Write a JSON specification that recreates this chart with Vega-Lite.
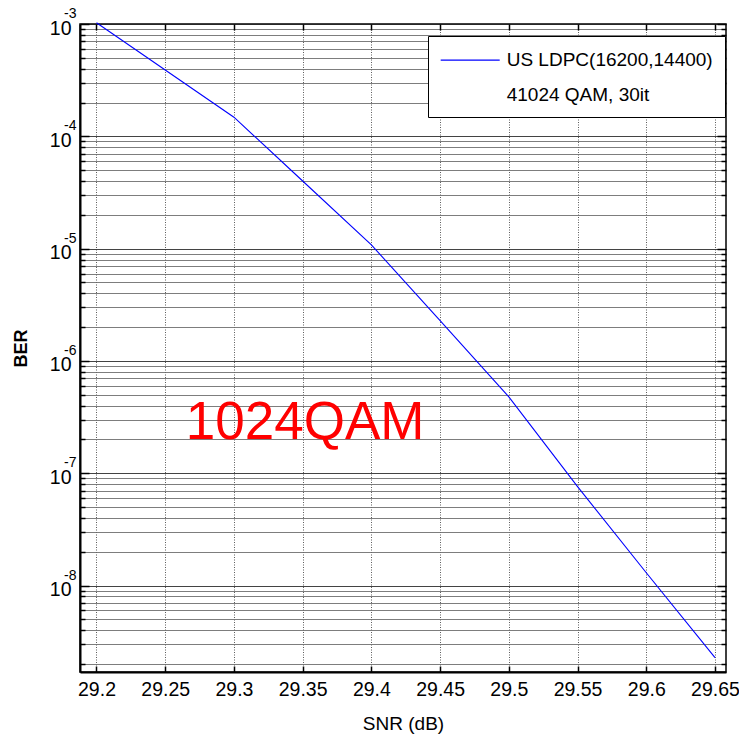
{
  "$schema": "https://vega.github.io/schema/vega-lite/v6.json",
  "width": 646,
  "height": 648,
  "autosize": "none",
  "padding": {"left": 80, "top": 24, "right": 13, "bottom": 66},
  "background": "white",
  "config": {
    "view": {"stroke": "black", "strokeWidth": 1.5},
    "font": "Liberation Sans"
  },
  "datasets": {
    "ber": [
      {"snr": 29.2, "ber": 1.027e-3, "series": "US LDPC(16200,14400)"},
      {"snr": 29.25, "ber": 3.9e-4, "series": "US LDPC(16200,14400)"},
      {"snr": 29.3, "ber": 1.48e-4, "series": "US LDPC(16200,14400)"},
      {"snr": 29.35, "ber": 4.0e-5, "series": "US LDPC(16200,14400)"},
      {"snr": 29.4, "ber": 1.08e-5, "series": "US LDPC(16200,14400)"},
      {"snr": 29.45, "ber": 2.28e-6, "series": "US LDPC(16200,14400)"},
      {"snr": 29.5, "ber": 4.78e-7, "series": "US LDPC(16200,14400)"},
      {"snr": 29.55, "ber": 7.6e-8, "series": "US LDPC(16200,14400)"},
      {"snr": 29.6, "ber": 1.3e-8, "series": "US LDPC(16200,14400)"},
      {"snr": 29.65, "ber": 2.28e-9, "series": "US LDPC(16200,14400)"}
    ],
    "exps": [
      {"v": 1e-3, "e": "-3"},
      {"v": 1e-4, "e": "-4"},
      {"v": 1e-5, "e": "-5"},
      {"v": 1e-6, "e": "-6"},
      {"v": 1e-7, "e": "-7"},
      {"v": 1e-8, "e": "-8"}
    ],
    "note": [
      {"x": 29.265, "y": 2e-7, "label": "1024QAM"}
    ]
  },
  "resolve": {"axis": {"x": "independent", "y": "independent"}},
  "layer": [
    {
      "data": {"name": "ber"},
      "mark": {"type": "line", "strokeWidth": 1.1, "clip": false},
      "encoding": {
        "x": {
          "field": "snr", "type": "quantitative",
          "scale": {"domain": [29.188, 29.658], "nice": false, "zero": false},
          "axis": {
            "orient": "bottom",
            "values": [29.2, 29.25, 29.3, 29.35, 29.4, 29.45, 29.5, 29.55, 29.6, 29.65],
            "format": ".2~f",
            "title": "SNR (dB)",
            "titleFont": "Liberation Sans",
            "titleFontSize": 19,
            "titleFontWeight": "normal",
            "titleColor": "black",
            "titlePadding": 16,
            "labelFont": "Liberation Sans",
            "labelFontSize": 19.5,
            "labelColor": "black",
            "labelPadding": 14,
            "labelFlush": false,
            "labelOverlap": false,
            "domainColor": "black",
            "domainWidth": 2,
            "ticks": true,
            "tickSize": -6,
            "tickColor": "black",
            "tickWidth": 1.5,
            "grid": true,
            "gridColor": "#333",
            "gridOpacity": 0.8,
            "gridDash": [1, 1.5],
            "gridWidth": 1
          }
        },
        "y": {
          "field": "ber", "type": "quantitative",
          "scale": {"type": "log", "domain": [1.7e-9, 1e-3], "nice": false},
          "axis": {
            "orient": "left",
            "values": [2e-9, 3e-9, 4e-9, 5e-9, 6e-9, 7e-9, 8e-9, 9e-9,
                       1e-8, 2e-8, 3e-8, 4e-8, 5e-8, 6e-8, 7e-8, 8e-8, 9e-8,
                       1e-7, 2e-7, 3e-7, 4e-7, 5e-7, 6e-7, 7e-7, 8e-7, 9e-7,
                       1e-6, 2e-6, 3e-6, 4e-6, 5e-6, 6e-6, 7e-6, 8e-6, 9e-6,
                       1e-5, 2e-5, 3e-5, 4e-5, 5e-5, 6e-5, 7e-5, 8e-5, 9e-5,
                       1e-4, 2e-4, 3e-4, 4e-4, 5e-4, 6e-4, 7e-4, 8e-4, 9e-4, 1e-3],
            "labelExpr": "abs(log(datum.value)/LN10 - round(log(datum.value)/LN10)) < 0.001 ? '10' : ''",
            "title": "BER",
            "titleFont": "Liberation Sans",
            "titleFontSize": 18,
            "titleFontWeight": "bold",
            "titleColor": "black",
            "titlePadding": 19,
            "labelFont": "Liberation Sans",
            "labelFontSize": 19.5,
            "labelColor": "black",
            "labelPadding": 18,
            "labelOffset": 4,
            "labelFlush": false,
            "labelOverlap": false,
            "domainColor": "black",
            "domainWidth": 2,
            "ticks": true,
            "tickSize": {"condition": {"test": "abs(log(datum.value)/LN10 - round(log(datum.value)/LN10)) < 0.001", "value": -9}, "value": -5},
            "tickColor": "black",
            "tickWidth": 1.5,
            "grid": true,
            "gridColor": {"condition": {"test": "abs(log(datum.value)/LN10 - round(log(datum.value)/LN10)) < 0.001", "value": "#222"}, "value": "#666"},
            "gridOpacity": 0.85,
            "gridWidth": 1
          }
        },
        "color": {
          "field": "series", "type": "nominal",
          "scale": {"domain": ["US LDPC(16200,14400)", "41024 QAM, 30it"], "range": ["#0000ff", "transparent"]},
          "legend": {
            "title": null,
            "orient": "none",
            "legendX": 348,
            "legendY": 12,
            "strokeColor": "black",
            "fillColor": "white",
            "padding": 11.7,
            "symbolType": "M-2.5,0H2.5",
            "symbolSize": 557,
            "symbolOffset": 18,
            "symbolStrokeWidth": 1.2,
            "labelFont": "Liberation Sans",
            "labelFontSize": 19,
            "labelColor": "black",
            "labelOffset": 24,
            "labelLimit": 400,
            "rowPadding": 11.4
          }
        }
      }
    },
    {
      "data": {"name": "exps"},
      "mark": {"type": "text", "align": "left", "baseline": "middle", "dx": -16, "dy": -10, "font": "Liberation Sans", "fontSize": 14, "color": "black"},
      "encoding": {
        "x": {"datum": 29.188, "type": "quantitative", "axis": null},
        "y": {"field": "v", "type": "quantitative", "axis": null},
        "text": {"field": "e"}
      }
    },
    {
      "data": {"name": "note"},
      "mark": {"type": "text", "align": "left", "baseline": "alphabetic", "font": "Liberation Sans", "fontSize": 53, "color": "#ff0000"},
      "encoding": {
        "x": {
          "field": "x", "type": "quantitative",
          "axis": {
            "orient": "top",
            "values": [29.2, 29.25, 29.3, 29.35, 29.4, 29.45, 29.5, 29.55, 29.6, 29.65],
            "labels": false,
            "title": null,
            "domain": false,
            "grid": false,
            "ticks": true,
            "tickSize": -6,
            "tickColor": "black",
            "tickWidth": 1.5
          }
        },
        "y": {
          "field": "y", "type": "quantitative",
          "axis": {
            "orient": "right",
            "values": [2e-9, 3e-9, 4e-9, 5e-9, 6e-9, 7e-9, 8e-9, 9e-9,
                       1e-8, 2e-8, 3e-8, 4e-8, 5e-8, 6e-8, 7e-8, 8e-8, 9e-8,
                       1e-7, 2e-7, 3e-7, 4e-7, 5e-7, 6e-7, 7e-7, 8e-7, 9e-7,
                       1e-6, 2e-6, 3e-6, 4e-6, 5e-6, 6e-6, 7e-6, 8e-6, 9e-6,
                       1e-5, 2e-5, 3e-5, 4e-5, 5e-5, 6e-5, 7e-5, 8e-5, 9e-5,
                       1e-4, 2e-4, 3e-4, 4e-4, 5e-4, 6e-4, 7e-4, 8e-4, 9e-4, 1e-3],
            "labels": false,
            "title": null,
            "domain": false,
            "grid": false,
            "ticks": true,
            "tickSize": {"condition": {"test": "abs(log(datum.value)/LN10 - round(log(datum.value)/LN10)) < 0.001", "value": -9}, "value": -5},
            "tickColor": "black",
            "tickWidth": 1.5
          }
        },
        "text": {"field": "label"}
      }
    }
  ]
}
